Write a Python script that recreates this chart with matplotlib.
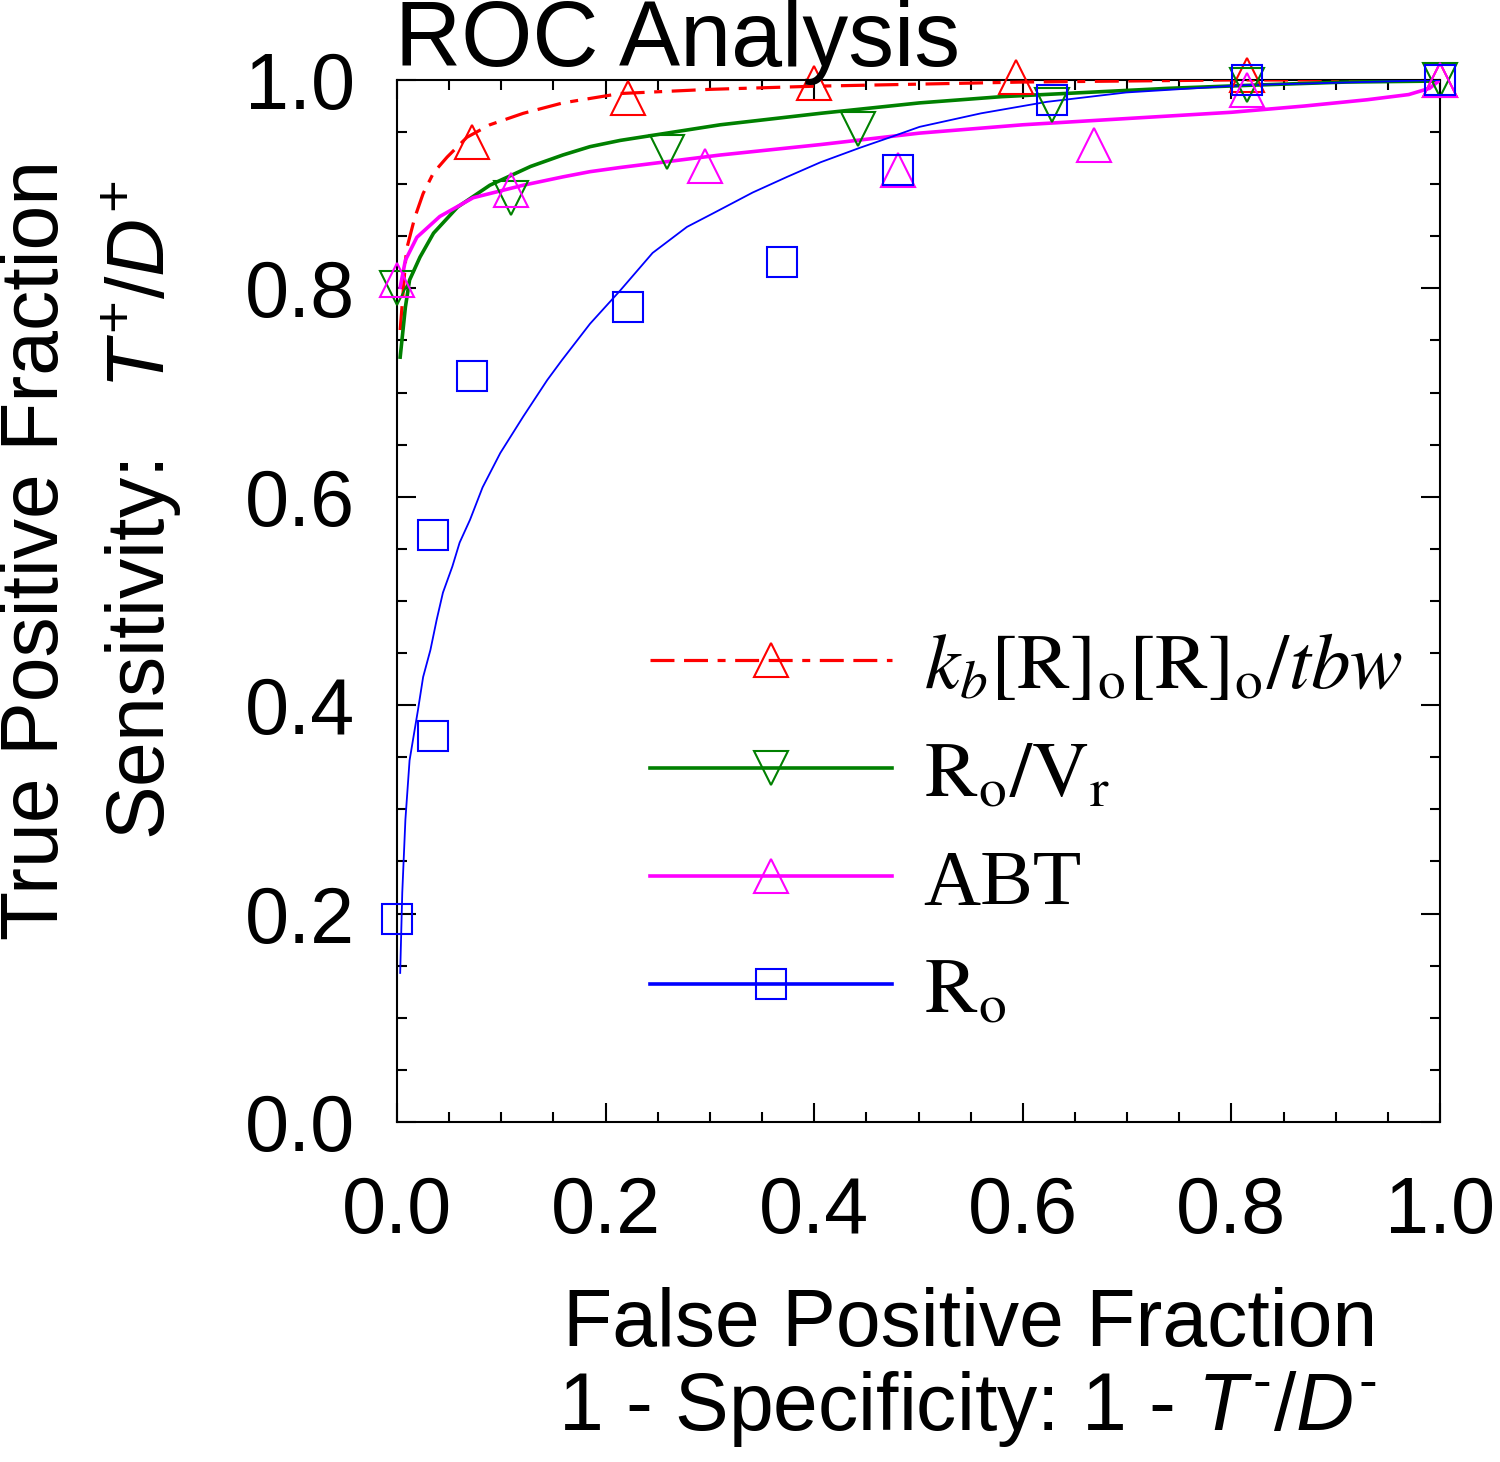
import matplotlib
matplotlib.use("Agg")
import matplotlib.pyplot as plt
from matplotlib.ticker import MultipleLocator

plt.rcParams['font.family'] = ['Liberation Sans', 'DejaVu Sans']
plt.rcParams['mathtext.fontset'] = 'custom'
plt.rcParams['mathtext.rm'] = 'Liberation Sans'
plt.rcParams['mathtext.it'] = 'Liberation Sans:italic'

# ---- data: measured points ----
kb_x = [0.072, 0.221, 0.40, 0.593, 0.815, 1.0]
kb_y = [0.940, 0.983, 0.997, 1.003, 1.005, 1.0]

rovr_x = [0.0, 0.109, 0.259, 0.442, 0.628, 0.815, 1.0]
rovr_y = [0.800, 0.887, 0.931, 0.953, 0.976, 0.995, 1.0]

abt_x = [0.0, 0.109, 0.295, 0.480, 0.668, 0.815, 1.0]
abt_y = [0.808, 0.894, 0.917, 0.914, 0.938, 0.990, 1.0]

ro_x = [0.0, 0.034, 0.034, 0.072, 0.221, 0.369, 0.480, 0.628, 0.815, 1.0]
ro_y = [0.195, 0.370, 0.563, 0.716, 0.782, 0.825, 0.914, 0.981, 1.0, 1.0]

# ---- data: fitted curves ----
kb_fx = [0.003, 0.009, 0.017, 0.025, 0.035, 0.048, 0.067, 0.089, 0.121, 0.159,
         0.214, 0.30, 0.40, 0.50, 0.60, 0.70, 0.80, 0.90, 1.0]
kb_fy = [0.760, 0.837, 0.868, 0.891, 0.911, 0.926, 0.945, 0.957, 0.968, 0.978,
         0.987, 0.991, 0.994, 0.996, 0.998, 0.999, 1.0, 1.0, 1.0]

rovr_fx = [0.003, 0.008, 0.012, 0.022, 0.035, 0.058, 0.089, 0.128, 0.159, 0.185,
           0.214, 0.310, 0.406, 0.501, 0.580, 0.660, 0.740, 0.820, 0.910, 1.0]
rovr_fy = [0.734, 0.782, 0.808, 0.830, 0.853, 0.878, 0.899, 0.917, 0.928, 0.936,
           0.942, 0.957, 0.968, 0.978, 0.984, 0.988, 0.992, 0.995, 0.998, 0.999]

abt_fx = [0.003, 0.008, 0.019, 0.041, 0.073, 0.121, 0.159, 0.185, 0.214, 0.310,
          0.406, 0.501, 0.600, 0.700, 0.800, 0.870, 0.930, 0.970, 0.990, 1.0]
abt_fy = [0.801, 0.827, 0.849, 0.869, 0.887, 0.899, 0.907, 0.912, 0.916, 0.928,
          0.938, 0.949, 0.957, 0.963, 0.969, 0.975, 0.981, 0.986, 0.992, 1.0]

ro_fx = [0.003, 0.005, 0.008, 0.012, 0.020, 0.025, 0.032, 0.038, 0.044, 0.053,
         0.060, 0.070, 0.082, 0.099, 0.121, 0.144, 0.158, 0.185, 0.214, 0.245,
         0.278, 0.303, 0.341, 0.374, 0.406, 0.444, 0.470, 0.501, 0.560, 0.623,
         0.699, 0.812, 0.925, 1.0]
ro_fy = [0.143, 0.220, 0.290, 0.347, 0.395, 0.427, 0.453, 0.482, 0.508, 0.533,
         0.556, 0.578, 0.609, 0.642, 0.677, 0.712, 0.731, 0.766, 0.798, 0.834,
         0.859, 0.872, 0.892, 0.907, 0.921, 0.935, 0.944, 0.955, 0.968, 0.979,
         0.988, 0.995, 0.998, 1.0]

labels = [r'$k_b[\mathrm{R}]_\mathrm{o}[\mathrm{R}]_\mathrm{o}/tbw$',
          r'$\mathrm{R_o/V_r}$', 'ABT', r'$\mathrm{R_o}$']
ticks = [0.0, 0.2, 0.4, 0.6, 0.8, 1.0]
ticklabels = ['0.0', '0.2', '0.4', '0.6', '0.8', '1.0']

fig = plt.figure(figsize=(15, 14.62), dpi=100)
ax = fig.add_axes([0.2647, 0.2326, 0.6953, 0.7127])

red, green, mag, blue = '#ff0000', '#008000', '#ff00ff', '#0000ff'
ms = 24
mew = 1.5
dash = (0, (7.5, 3, 7.5, 3, 2.5, 3))

ax.plot(kb_fx, kb_fy, color=red, lw=2.3, ls=dash, zorder=3)
ax.plot(rovr_fx, rovr_fy, color=green, lw=2.6, zorder=3)
ax.plot(abt_fx, abt_fy, color=mag, lw=2.6, zorder=3)
ax.plot(ro_fx, ro_fy, color=blue, lw=1.3, zorder=3)

ax.plot(kb_x, kb_y, ls='none', marker='^', ms=ms, mfc='none', mec=red, mew=mew, clip_on=False, zorder=4)
ax.plot(rovr_x, rovr_y, ls='none', marker='v', ms=ms, mfc='none', mec=green, mew=mew, clip_on=False, zorder=4)
ax.plot(abt_x, abt_y, ls='none', marker='^', ms=ms, mfc='none', mec=mag, mew=mew, clip_on=False, zorder=4)
ax.plot(ro_x, ro_y, ls='none', marker='s', ms=ms - 2, mfc='none', mec=blue, mew=mew, clip_on=False, zorder=4)

# legend proxies
h1, = ax.plot([], [], color=red, lw=2.3, ls=dash, marker='^', ms=ms, mfc='none', mec=red, mew=mew)
h2, = ax.plot([], [], color=green, lw=2.6, marker='v', ms=ms, mfc='none', mec=green, mew=mew)
h3, = ax.plot([], [], color=mag, lw=2.6, marker='^', ms=ms, mfc='none', mec=mag, mew=mew)
h4, = ax.plot([], [], color=blue, lw=2.6, marker='s', ms=ms - 2, mfc='none', mec=blue, mew=mew)
leg = ax.legend([h1, h2, h3, h4], labels, loc='upper left', bbox_to_anchor=(0.243, 0.470),
                borderaxespad=0, borderpad=0,
                frameon=False, markerscale=1.0, handlelength=3.05, handletextpad=0.4,
                labelspacing=0.45,
                prop=dict(family='Liberation Serif', size=57, math_fontfamily='stix'))

ax.set_xlim(0, 1)
ax.set_ylim(0, 1)
ax.set_xticks(ticks)
ax.set_yticks(ticks)
ax.set_xticklabels(ticklabels)
ax.set_yticklabels(ticklabels)
ax.xaxis.set_minor_locator(MultipleLocator(0.05))
ax.yaxis.set_minor_locator(MultipleLocator(0.05))
ax.tick_params(which='both', direction='in', top=True, right=True, width=1.5, color='black')
ax.tick_params(which='major', length=14)
ax.tick_params(which='minor', length=7)
ax.tick_params(axis='x', which='major', labelsize=57, pad=38)
ax.tick_params(axis='y', which='major', labelsize=57, pad=30)
for s in ax.spines.values():
    s.set_linewidth(1.5)

fig.text(0.2633, 0.971, 'ROC Analysis', fontsize=66, ha='left', va='center')
fig.text(0.025, 0.624, 'True Positive Fraction', fontsize=58, rotation=90, ha='center', va='center')
fig.text(0.094, 0.651, r'Sensitivity:   $T^{+}/D^{+}$', fontsize=58, rotation=90, ha='center', va='center')
fig.text(0.647, 0.094, 'False Positive Fraction', fontsize=58, ha='center', va='center')
fig.text(0.645, 0.036, r'1 - Specificity: 1 - $T^{\text{-}}/D^{\text{-}}$', fontsize=58, ha='center', va='center')

fig.savefig('out.png', dpi=100)
